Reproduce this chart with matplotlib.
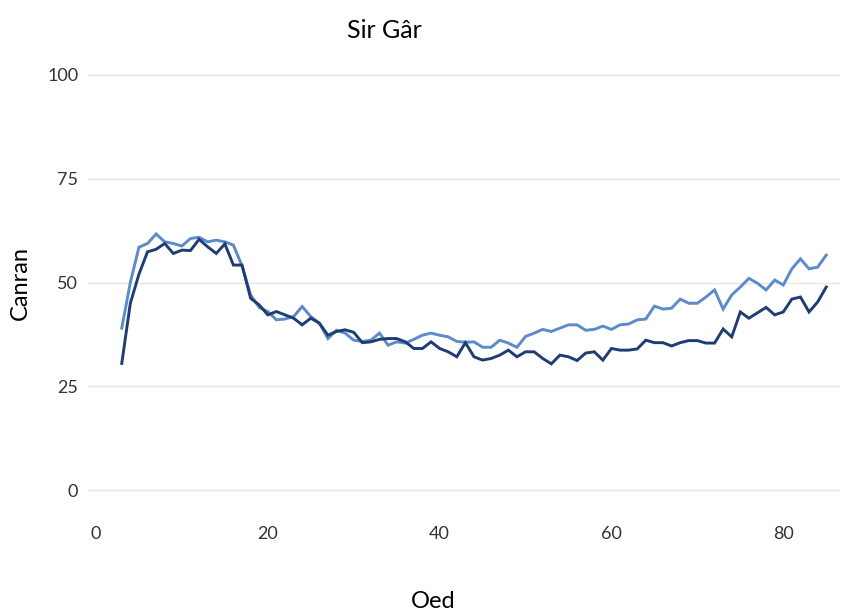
import matplotlib
matplotlib.use("Agg")
import matplotlib.pyplot as plt
import numpy as np

# ages 3..85
ages = np.arange(3, 86)

light = [39, 50, 58.5, 59.4, 61.7, 59.8, 59.4, 58.8, 60.6, 60.9,
         59.8, 60.2, 59.8, 59, 54, 47, 44, 43, 41, 41.2,
         41.8, 44.2, 41.8, 40.2, 36.5, 38.5, 37.8, 36.1, 35.8, 36.1,
         37.8, 34.9, 35.7, 35.4, 36.3, 37.3, 37.8, 37.3, 36.9, 35.8,
         35.6, 35.7, 34.4, 34.4, 36.1, 35.4, 34.4, 37, 37.8, 38.7,
         38.2, 39, 39.8, 39.8, 38.5, 38.7, 39.5, 38.7, 39.8, 40,
         41, 41.2, 44.3, 43.6, 43.8, 46, 45, 45, 46.5, 48.2,
         43.6, 47, 48.9, 51, 49.8, 48.2, 50.6, 49.4, 53.3, 55.7,
         53.3, 53.7, 56.6]

dark = [30.5, 45, 52, 57.4, 58, 59.4, 57, 57.8, 57.7, 60.4,
        58.6, 57, 59.3, 54.2, 54.2, 46.2, 44.6, 42.2, 43, 42.2,
        41.4, 39.8, 41.4, 40.2, 37.3, 38.2, 38.6, 38, 35.5, 35.7,
        36.3, 36.5, 36.5, 35.7, 34.1, 34.1, 35.7, 34.1, 33.3, 32.1,
        35.5, 32.1, 31.3, 31.7, 32.5, 33.7, 32.1, 33.3, 33.3, 31.7,
        30.4, 32.5, 32.1, 31.2, 33, 33.3, 31.3, 34.1, 33.7, 33.7,
        34, 36.1, 35.5, 35.5, 34.7, 35.5, 36, 36, 35.4, 35.4,
        38.8, 36.9, 42.9, 41.4, 42.7, 44, 42.2, 42.9, 46, 46.5,
        42.9, 45.3, 48.9]

x_ticks = [0, 20, 40, 60, 80]
y_ticks = [0, 25, 50, 75, 100]

plt.rcParams["font.family"] = ["Lato", "DejaVu Sans"]

fig = plt.figure(figsize=(8.42, 6.15), dpi=100)
ax = fig.add_axes([0.1045, 0.1695, 0.8931, 0.7423])

ax.plot(ages, light, color="#5b8bc8", linewidth=2.1, solid_joinstyle="miter")
ax.plot(ages, dark, color="#1f3c74", linewidth=2.1, solid_joinstyle="miter")

ax.set_xlim(-0.93, 86.6)
ax.set_ylim(-5, 105)
ax.set_xticks(x_ticks)
ax.set_yticks(y_ticks)
ax.tick_params(length=0, labelsize=13, colors="#333333")
ax.tick_params(axis="y", pad=7)
ax.tick_params(axis="x", pad=11)
ax.grid(axis="y", color="#e6e6e6", linewidth=1)
ax.grid(axis="x", visible=False)
ax.set_axisbelow(True)
for s in ax.spines.values():
    s.set_visible(False)

fig.text(0.457, 0.951, "Sir Gâr", ha="center", va="center", fontsize=18)
fig.text(0.515, 0.022, "Oed", ha="center", va="center", fontsize=17)
fig.text(0.024, 0.54, "Canran", ha="center", va="center", fontsize=17,
         rotation=90)

fig.savefig("out.png", dpi=100)
